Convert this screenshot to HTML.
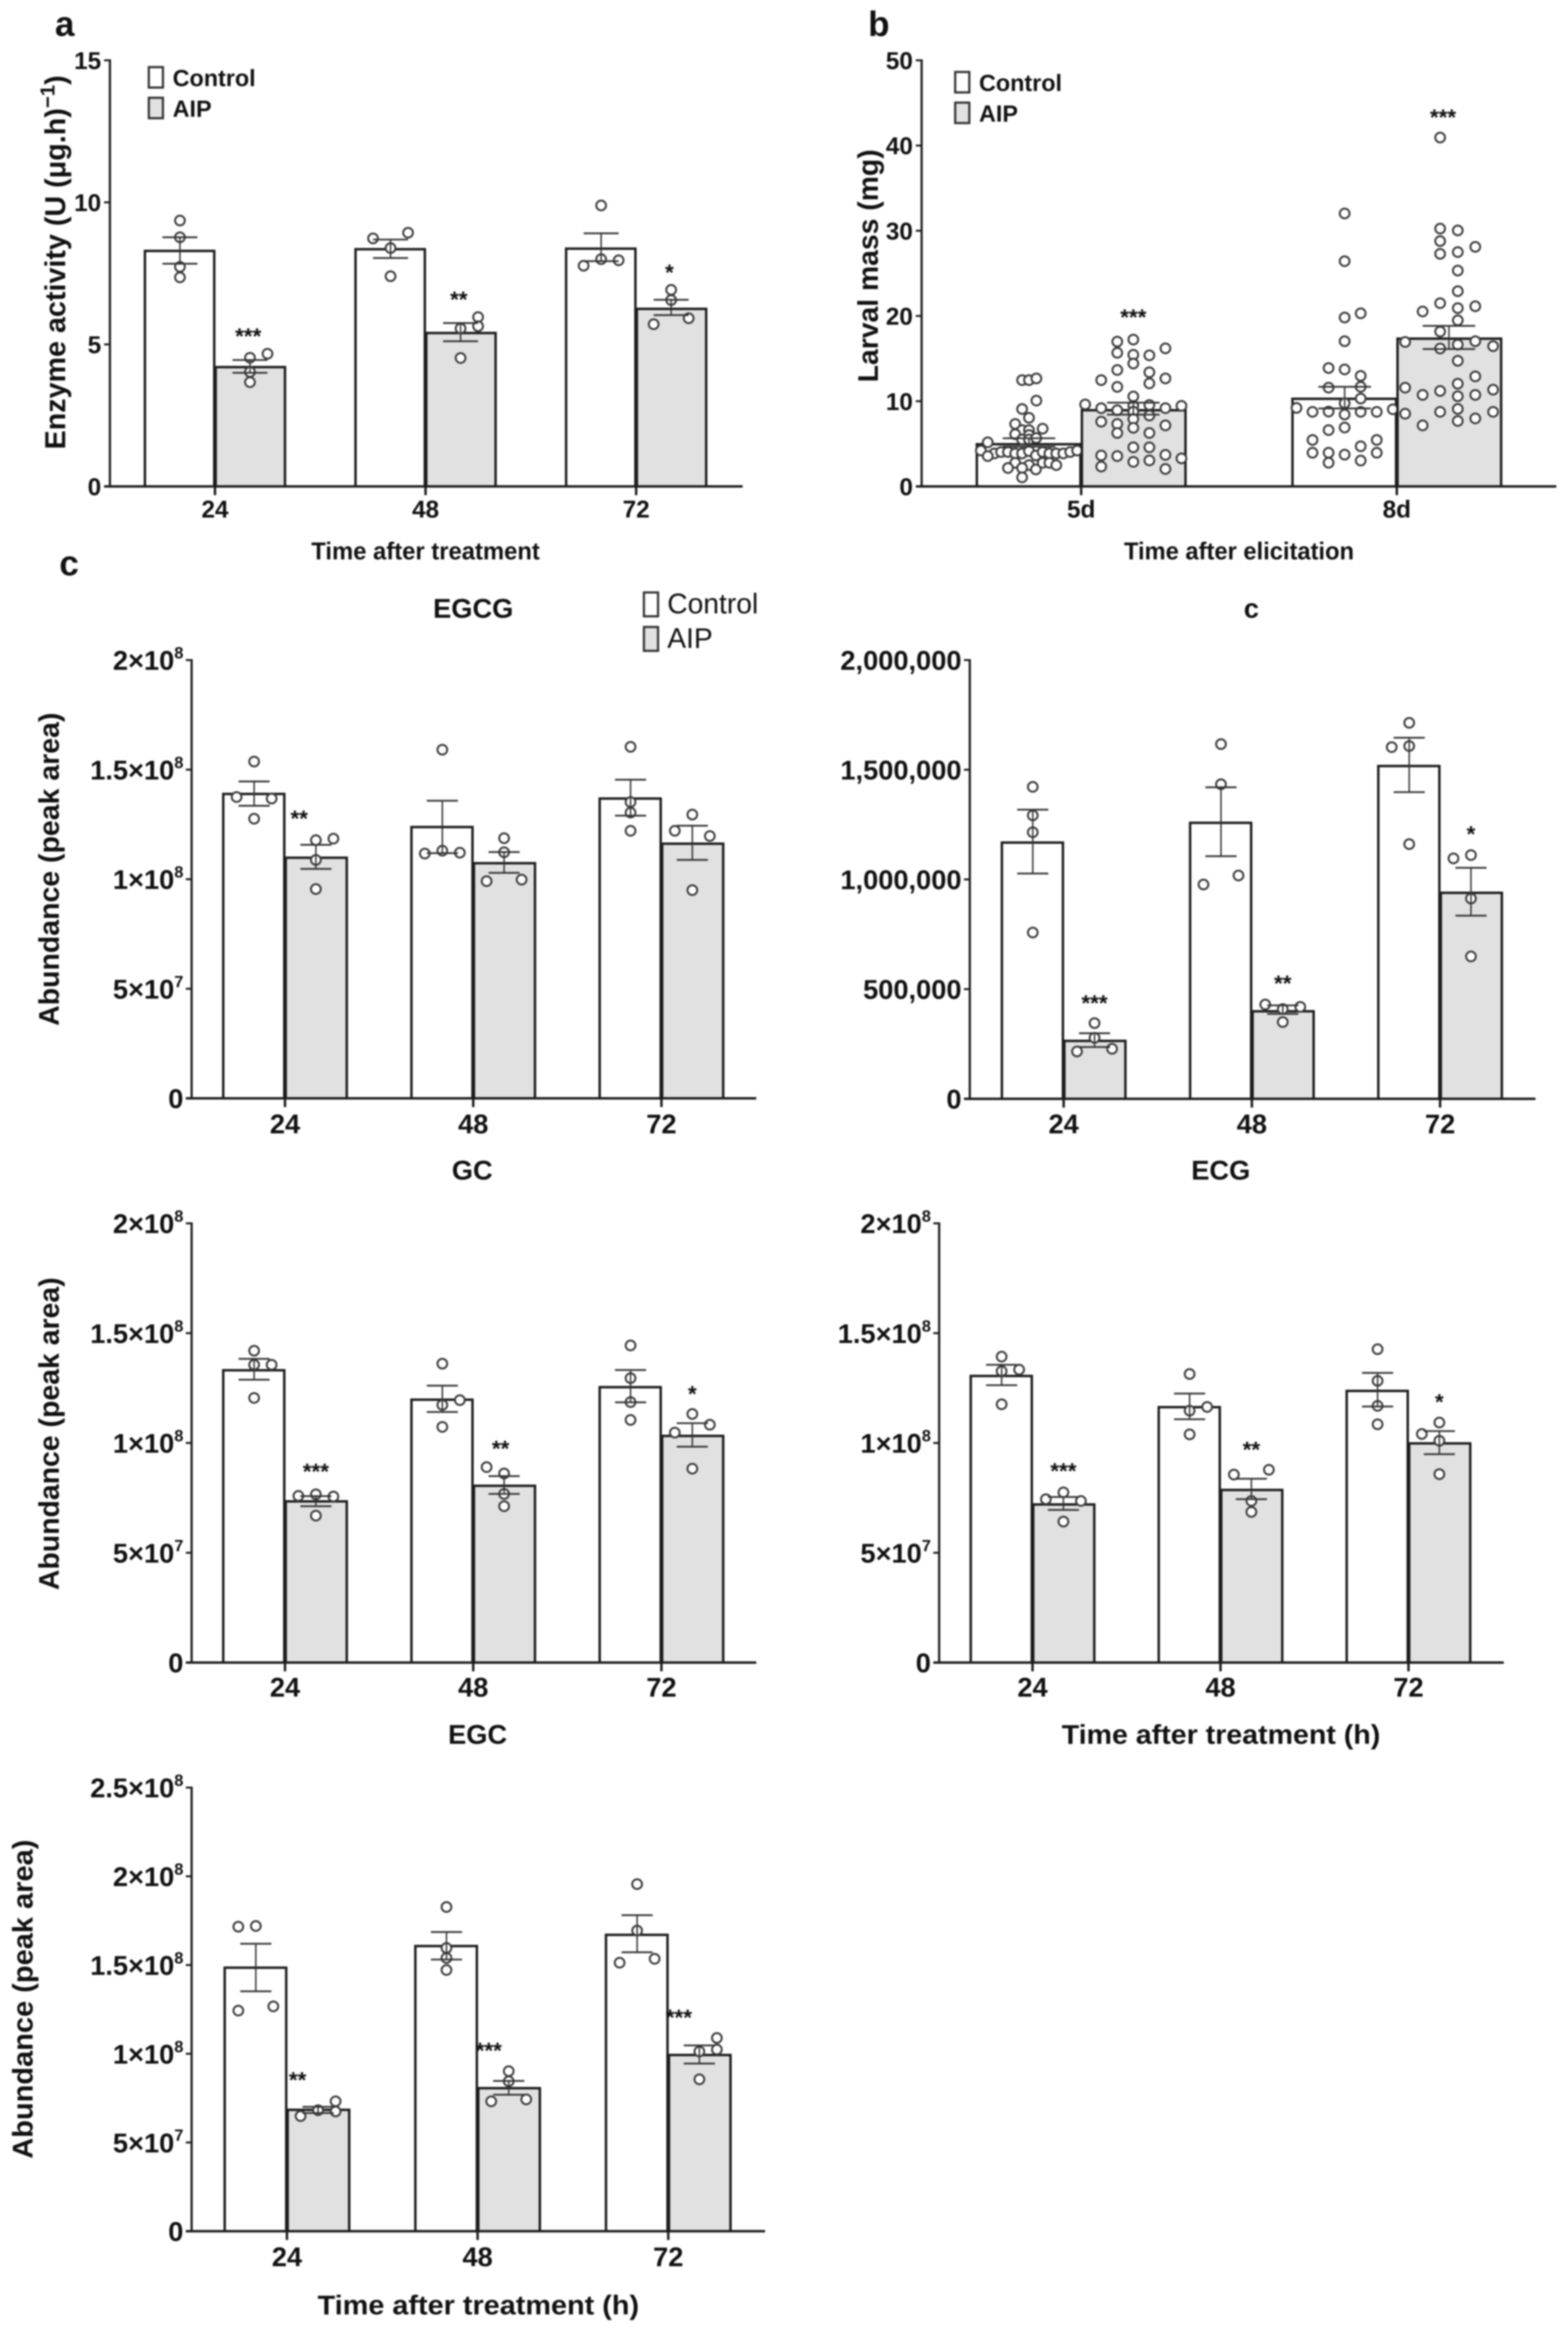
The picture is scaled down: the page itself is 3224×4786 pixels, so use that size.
<!DOCTYPE html>
<html lang="en">
<head>
<meta charset="utf-8">
<title>Enzyme activity, larval mass and metabolite abundance</title>
<style>
html,body{margin:0;padding:0;background:#fff;}
svg{display:block;filter:blur(1.6px);}
text{font-family:"Liberation Sans",sans-serif;fill:#111;}
</style>
</head>
<body>
<svg id="figure" xmlns="http://www.w3.org/2000/svg" width="3224" height="4786" viewBox="0 0 3224 4786"></svg>
<script>
/* ---------- Panel a: enzyme activity ---------- */
const aCategories = ['24','48','72'];
const aYTicks = [0,5,10,15];
const aYTickLabels = ['0','5','10','15'];
const aControlMeans = [8.29,8.35,8.37];
const aControlErrLow = [7.84,8.04,7.93];
const aControlErrHigh = [8.77,8.69,8.91];
const aAipMeans = [4.2,5.4,6.25];
const aAipErrLow = [4.0,5.11,6.03];
const aAipErrHigh = [4.45,5.75,6.57];
const aControlPoints = [[9.36,8.77,7.73,7.36],[8.73,8.93,8.39,7.4],[9.89,8.0,7.96,7.77]];
const aControlSwarm = [[0,0,0,0],[-1,1,0,0],[0,0,1,-1]];
const aAipPoints = [[4.67,4.53,4.03,3.67],[5.96,5.64,5.56,4.52],[6.92,6.56,5.92,5.71]];
const aAipSwarm = [[1,0,0,0],[1,1,0,0],[0,0,1,-1]];
const aStars = ['***','**','*'];
const aStarLevels = [5.47,6.76,7.71];
const aStarShift = [-0.1,-0.1,-0.1];

/* ---------- Panel b: larval mass ---------- */
const bCategories = ['5d','8d'];
const bYTicks = [0,10,20,30,40,50];
const bYTickLabels = ['0','10','20','30','40','50'];
const bControlMeans = [4.95,10.28];
const bControlErrLow = [4.66,9.15];
const bControlErrHigh = [5.65,11.69];
const bAipMeans = [8.94,17.34];
const bAipErrLow = [8.42,16.12];
const bAipErrHigh = [9.83,18.84];
const bControlPoints = [
 [12.47,12.47,12.67,10.07,9.08,8.05,7.33,6.78,6.61,6.61,6.13,6.03,5.51,5.51,5.68,5.17,4.21,3.87,4.04,4.04,3.87,3.87,4.14,3.63,4.04,3.87,3.87,3.87,4.04,4.21,3.56,2.77,2.5,2.16,1.99,2.16,2.77,2.77,2.5,1.06],
 [32.03,26.43,19.82,20.31,17.04,13.89,13.73,12.97,11.59,11.69,10.31,9.76,9.21,8.75,8.78,8.44,8.75,8.75,9.05,6.61,6.91,5.45,5.45,3.95,3.95,2.78,3.73,4.71,3.03,3.95]
];
const bControlSwarm = [
 [-.43,0,.46,.46,-.43,0,-.86,.85,-.43,0,-.86,0,-.43,0,.45,-2.57,-3,-2.16,-1.74,-1.31,-.86,-.43,0,.43,.85,1.27,1.7,2.14,2.57,3,-2.57,-.86,0,-.43,.43,-1.31,.85,1.27,1.7,-.43],
 [0,0,0,1,0,-1,0,1,-1,1,1,0,-3,-2,-1,0,1,2,3,-1,0,-2,2,-2,-1,-1,0,1,1,2]
];
const bAipPoints = [
 [16.99,17.23,15.68,15.45,15.38,16.2,14.42,13.66,13.39,12.09,12.67,12.47,11.68,10.55,9.62,9.18,8.94,9.45,9.55,9.18,9.45,8.77,8.32,7.33,7.6,7.91,6.88,6.27,6.27,7.16,4.59,4.59,3.63,3.56,2.88,3.05,3.7,3.29,2.33,2.05],
 [40.94,30.25,30.04,28.79,28.11,27.29,27.5,25.33,22.91,21.5,21.14,20.92,20.53,19.49,18.17,16.95,17.04,16.64,16.18,16.46,14.74,12.91,12.05,11.59,11.35,11.2,10.74,10.58,10.74,8.75,9.09,8.53,8.75,7.98,7.68,7.16]
];
const bAipSwarm = [
 [-1,0,-1,0,1,2,0,-1,1,1,2,-2,-1,0,-3,-2,-1,0,1,2,3,0,1,-1,-2,0,0,-1,1,2,0,1,-2,-1,0,1,2,3,-2,2],
 [-.55,-.55,.55,-.55,1.64,-.55,.55,.55,.55,-.55,1.64,.55,-1.64,.55,-.55,-2.73,1.64,.55,-.55,2.75,.55,1.64,.55,-2.73,2.75,-.55,-1.64,.55,1.64,-.55,.55,-2.73,2.75,1.64,.55,-1.64]
];
const bStars = ['***','***'];
const bStarLevels = [20.44,43.9];
const bStarShift = [0,-0.37];

/* ---------- Shared panel-c categories and axes (peak area, units of 1e8) ---------- */
const cCategories = ['24','48','72'];
const cYTicks = [0,0.5,1,1.5,2];
const cYTickLabels = ['0','5×10^7','1×10^8','1.5×10^8','2×10^8'];

/* ---------- EGCG ---------- */
const egcgControlMeans = [1.389,1.238,1.368];
const egcgControlErrLow = [1.335,1.119,1.29];
const egcgControlErrHigh = [1.446,1.358,1.454];
const egcgAipMeans = [1.098,1.073,1.162];
const egcgAipErrLow = [1.047,1.029,1.088];
const egcgAipErrHigh = [1.157,1.124,1.244];
const egcgControlPoints = [[1.537,1.375,1.368,1.276],[1.591,1.117,1.13,1.121],[1.604,1.352,1.304,1.221]];
const egcgControlSwarm = [[0,-1,1,0],[0,-1,0,1],[0,0,0,0]];
const egcgAipPoints = [[1.178,1.185,1.088,0.955],[1.187,1.123,0.991,0.998],[1.295,1.221,1.197,0.95]];
const egcgAipSwarm = [[0,1,0,0],[0,0,-1,1],[0,-1,1,0]];
const egcgStars = ['**','',''];
const egcgStarLevels = [1.3,1.3,1.3];
const egcgStarShift = [-0.95,0,0];

/* ---------- c (catechin, millions) ---------- */
const catYTicks = [0,0.5,1,1.5,2];
const catYTickLabels = ['0','500,000','1,000,000','1,500,000','2,000,000'];
const catControlMeans = [1.168,1.258,1.517];
const catControlErrLow = [1.027,1.106,1.398];
const catControlErrHigh = [1.318,1.42,1.646];
const catAipMeans = [0.264,0.399,0.939];
const catAipErrLow = [0.236,0.387,0.835];
const catAipErrHigh = [0.299,0.426,1.053];
const catControlPoints = [[1.422,1.292,1.215,0.758],[1.617,1.434,1.018,0.977],[1.714,1.603,1.608,1.161]];
const catControlSwarm = [[0,0,0,0],[0,0,1,-1],[0,-1,0,0]];
const catAipPoints = [[0.345,0.278,0.216,0.228],[0.43,0.419,0.409,0.35],[1.111,1.096,0.913,0.649]];
const catAipSwarm = [[0,0,-1,1],[-1,1,0,0],[0,-1,0,0]];
const catStars = ['***','**','*'];
const catStarLevels = [0.459,0.549,1.23];
const catStarShift = [0,0,0];

/* ---------- GC ---------- */
const gcControlMeans = [1.331,1.197,1.254];
const gcControlErrLow = [1.288,1.141,1.185];
const gcControlErrHigh = [1.383,1.261,1.332];
const gcAipMeans = [0.734,0.805,1.032];
const gcAipErrLow = [0.712,0.768,0.983];
const gcAipErrHigh = [0.758,0.849,1.09];
const gcControlPoints = [[1.42,1.356,1.356,1.205],[1.361,1.195,1.173,1.073],[1.444,1.295,1.186,1.105]];
const gcControlSwarm = [[0,0,1,0],[0,1,0,0],[0,0,0,0]];
const gcAipPoints = [[0.759,0.766,0.756,0.669],[0.89,0.861,0.768,0.712],[1.132,1.083,1.047,0.883]];
const gcAipSwarm = [[-1,0,1,0],[-1,0,0,0],[0,1,-1,0]];
const gcStars = ['***','**','*'];
const gcStarLevels = [0.893,0.997,1.246];
const gcStarShift = [0,-0.2,0];

/* ---------- ECG ---------- */
const ecgControlMeans = [1.305,1.163,1.237];
const ecgControlErrLow = [1.263,1.108,1.166];
const ecgControlErrHigh = [1.356,1.225,1.319];
const ecgAipMeans = [0.72,0.786,0.998];
const ecgAipErrLow = [0.695,0.744,0.949];
const ecgAipErrHigh = [0.754,0.837,1.054];
const ecgControlPoints = [[1.393,1.327,1.334,1.176],[1.314,1.164,1.147,1.039],[1.427,1.283,1.169,1.085]];
const ecgControlSwarm = [[0,0,1,0],[0,1,0,0],[0,0,0,0]];
const ecgAipPoints = [[0.744,0.775,0.736,0.642],[0.856,0.878,0.736,0.686],[1.093,1.041,1.01,0.858]];
const ecgAipSwarm = [[-1,0,1,0],[-1,1,0,0],[0,-1,0,0]];
const ecgStars = ['***','**','*'];
const ecgStarLevels = [0.895,0.993,1.21];
const ecgStarShift = [0,0,0];

/* ---------- EGC ---------- */
const egcYTicks = [0,0.5,1,1.5,2,2.5];
const egcYTickLabels = ['0','5×10^7','1×10^8','1.5×10^8','2×10^8','2.5×10^8'];
const egcControlMeans = [1.485,1.607,1.67];
const egcControlErrLow = [1.352,1.531,1.572];
const egcControlErrHigh = [1.62,1.686,1.781];
const egcAipMeans = [0.684,0.806,0.993];
const egcAipErrLow = [0.666,0.769,0.945];
const egcAipErrHigh = [0.701,0.847,1.047];
const egcControlPoints = [[1.716,1.72,1.243,1.267],[1.827,1.596,1.54,1.472],[1.956,1.694,1.513,1.535]];
const egcControlSwarm = [[-1,0,-1,1],[0,0,0,0],[0,0,-1,1]];
const egcAipPoints = [[0.649,0.682,0.675,0.732],[0.902,0.845,0.732,0.743],[1.089,1.024,1.013,0.856]];
const egcAipSwarm = [[-1,0,1,1],[0,0,-1,1],[1,1,0,0]];
const egcStars = ['**','***','***'];
const egcStarLevels = [0.88,1.047,1.233];
const egcStarShift = [-1.17,-1.14,-1.17];

/* ---------- Drawing ---------- */
const NS = 'http://www.w3.org/2000/svg';
const root = document.getElementById('figure');
const INK = '#1c1c1c';
const AIP_FILL = '#e1e1e1';

function mk(parent, tag, attrs, name) {
  const el = document.createElementNS(NS, tag);
  for (const k in attrs) el.setAttribute(k, attrs[k]);
  
  
  parent.appendChild(el);
  return el;
}
function line(parent, x1, y1, x2, y2, sw, name, color) {
  return mk(parent, 'line', {x1, y1, x2, y2, stroke: color || INK, 'stroke-width': sw}, name);
}
function label(parent, str, x, y, size, anchor, name, weight) {
  const t = mk(parent, 'text', {x, y, 'font-size': size, 'text-anchor': anchor || 'middle', 'font-weight': weight || 'bold'}, name);
  t.textContent = str;
  return t;
}
function tickLabel(parent, str, x, y, size, name) {
  const parts = str.split('^');
  const t = mk(parent, 'text', {x, y, 'font-size': size, 'text-anchor': 'end', 'font-weight': 'bold'}, name);
  t.appendChild(document.createTextNode(parts[0]));
  if (parts[1]) {
    const s = document.createElementNS(NS, 'tspan');
    s.setAttribute('font-size', size * 0.6);
    s.setAttribute('dy', -size * 0.42);
    s.textContent = parts[1];
    t.appendChild(s);
  }
}
function yTitle(parent, str, x, y, size, length, name) {
  mk(parent, 'text', {
    transform: 'translate(' + x + ',' + y + ') rotate(-90)', 'font-size': size, 'font-weight': 'bold',
    textLength: length, lengthAdjust: 'spacingAndGlyphs'
  }, name).textContent = str;
}

function drawGroup(g, p, i, series) {
  const isCtl = series === 'control';
  const c = p.firstCenter + i * p.groupStep;
  const cx = isCtl ? c - p.barWidth / 2 : c + p.barWidth / 2;
  const y = v => p.bottom - (v / p.yMax) * (p.bottom - p.top);
  const cat = p.categories[i];
  const means = isCtl ? p.controlMeans : p.aipMeans;
  const lows = isCtl ? p.controlLow : p.aipLow;
  const highs = isCtl ? p.controlHigh : p.aipHigh;
  const pts = isCtl ? p.controlPoints : p.aipPoints;
  const swarm = isCtl ? p.controlSwarm : p.aipSwarm;
  const x0 = isCtl ? c - p.barWidth : c + 1.5;
  const x1 = isCtl ? c - 1.5 : c + p.barWidth;
  mk(g, 'rect', {x: x0, y: y(means[i]), width: x1 - x0, height: p.bottom - y(means[i]),
    fill: isCtl ? '#fff' : AIP_FILL, stroke: INK, 'stroke-width': 5}, 'bar-' + p.id + '-' + cat + '-' + series);
  pts[i].forEach(function (v, k) {
    mk(g, 'circle', {cx: cx + swarm[i][k] * p.colPx, cy: y(v), r: 10, fill: '#fff', stroke: '#3a3a3a', 'stroke-width': 4},
      'point-' + p.id + '-' + cat + '-' + series);
  });
  const ex = cx;
  line(g, ex, y(lows[i]), ex, y(highs[i]), 3, 'error-stem-' + p.id + '-' + cat + '-' + series, '#333');
  line(g, ex - p.capWidth / 2, y(highs[i]), ex + p.capWidth / 2, y(highs[i]), 3.6, 'error-cap-high-' + p.id + '-' + cat + '-' + series, '#333');
  line(g, ex - p.capWidth / 2, y(lows[i]), ex + p.capWidth / 2, y(lows[i]), 3.6, 'error-cap-low-' + p.id + '-' + cat + '-' + series, '#333');
}

function drawPanel(p) {
  const g = mk(root, 'g', {}, 'panel-' + p.id);
  const y = v => p.bottom - (v / p.yMax) * (p.bottom - p.top);
  p.categories.forEach(function (cat, i) {
    drawGroup(g, p, i, 'control');
    drawGroup(g, p, i, 'aip');
    const c = p.firstCenter + i * p.groupStep;
    if (p.stars[i]) {
      label(g, p.stars[i], c + p.barWidth / 2 + p.starShift[i] * p.colPx, y(p.starLevels[i]) + 0.57 * 46, 46, 'middle', 'significance-' + p.id + '-' + cat);
    }
    line(g, c, p.bottom, c, p.bottom + 18, 5, 'x-tick-' + p.id + '-' + cat);
    label(g, cat, c, p.catBaseline, p.fontSize, 'middle', 'x-label-' + p.id + '-' + cat);
  });
  line(g, p.axisX, p.top - 2, p.axisX, p.bottom + 2, 4.5, 'y-axis-' + p.id);
  line(g, p.axisX - 12, p.bottom, p.xEnd, p.bottom, 5, 'x-axis-' + p.id);
  p.yTicks.forEach(function (v, i) {
    line(g, p.axisX - 12, y(v), p.axisX, y(v), 4, 'y-tick-' + p.id + '-' + p.yTickLabels[i]);
    tickLabel(g, p.yTickLabels[i], p.axisX - p.labelGap, y(v) + p.fontSize * 0.36, p.fontSize, 'y-label-' + p.id + '-' + p.yTickLabels[i]);
  });
}

function legend(x, yc, ya, text1X, name, size, weight) {
  const g = mk(root, 'g', {}, name);
  const h = yc[1] - yc[0];
  mk(g, 'rect', {x: x, y: yc[0], width: 29, height: h, fill: '#fff', stroke: '#333', 'stroke-width': 4.5}, 'legend-swatch-control');
  mk(g, 'rect', {x: x, y: ya[0], width: 29, height: h, fill: AIP_FILL, stroke: '#333', 'stroke-width': 4.5}, 'legend-swatch-aip');
  label(g, 'Control', text1X, yc[1] - 3 + (size > 50 ? -3 : 0), size, 'start', 'legend-label-control', weight);
  label(g, 'AIP', text1X, ya[1] - 3 + (size > 50 ? -3 : 0), size, 'start', 'legend-label-aip', weight);
}

drawPanel({id:'enzyme-activity',categories:aCategories,yTicks:aYTicks,yTickLabels:aYTickLabels,yMax:15,axisX:226,top:124,bottom:1000,xEnd:1527,firstCenter:442,groupStep:433,barWidth:144,colPx:36,capWidth:72,fontSize:50,labelGap:18,catBaseline:1064,
  controlMeans:aControlMeans,controlLow:aControlErrLow,controlHigh:aControlErrHigh,aipMeans:aAipMeans,aipLow:aAipErrLow,aipHigh:aAipErrHigh,controlPoints:aControlPoints,controlSwarm:aControlSwarm,aipPoints:aAipPoints,aipSwarm:aAipSwarm,stars:aStars,starLevels:aStarLevels,starShift:aStarShift});
drawPanel({id:'larval-mass',categories:bCategories,yTicks:bYTicks,yTickLabels:bYTickLabels,yMax:50,axisX:1895,top:124,bottom:1000,xEnd:3200,firstCenter:2223,groupStep:649,barWidth:214.5,colPx:33,capWidth:108,fontSize:50,labelGap:18,catBaseline:1064,
  controlMeans:bControlMeans,controlLow:bControlErrLow,controlHigh:bControlErrHigh,aipMeans:bAipMeans,aipLow:bAipErrLow,aipHigh:bAipErrHigh,controlPoints:bControlPoints,controlSwarm:bControlSwarm,aipPoints:bAipPoints,aipSwarm:bAipSwarm,stars:bStars,starLevels:bStarLevels,starShift:bStarShift});
drawPanel({id:'egcg',categories:cCategories,yTicks:cYTicks,yTickLabels:cYTickLabels,yMax:2,axisX:394,top:1357,bottom:2258,xEnd:1555,firstCenter:586,groupStep:387,barWidth:127,colPx:36,capWidth:64,fontSize:56,labelGap:17,catBaseline:2330,
  controlMeans:egcgControlMeans,controlLow:egcgControlErrLow,controlHigh:egcgControlErrHigh,aipMeans:egcgAipMeans,aipLow:egcgAipErrLow,aipHigh:egcgAipErrHigh,controlPoints:egcgControlPoints,controlSwarm:egcgControlSwarm,aipPoints:egcgAipPoints,aipSwarm:egcgAipSwarm,stars:egcgStars,starLevels:egcgStarLevels,starShift:egcgStarShift});
drawPanel({id:'catechin',categories:cCategories,yTicks:catYTicks,yTickLabels:catYTickLabels,yMax:2,axisX:1994,top:1357,bottom:2259,xEnd:3157,firstCenter:2187,groupStep:387,barWidth:127,colPx:36,capWidth:64,fontSize:56,labelGap:17,catBaseline:2330,
  controlMeans:catControlMeans,controlLow:catControlErrLow,controlHigh:catControlErrHigh,aipMeans:catAipMeans,aipLow:catAipErrLow,aipHigh:catAipErrHigh,controlPoints:catControlPoints,controlSwarm:catControlSwarm,aipPoints:catAipPoints,aipSwarm:catAipSwarm,stars:catStars,starLevels:catStarLevels,starShift:catStarShift});
drawPanel({id:'gc',categories:cCategories,yTicks:cYTicks,yTickLabels:cYTickLabels,yMax:2,axisX:394,top:2515,bottom:3418,xEnd:1555,firstCenter:586,groupStep:387,barWidth:127,colPx:36,capWidth:64,fontSize:56,labelGap:17,catBaseline:3488,
  controlMeans:gcControlMeans,controlLow:gcControlErrLow,controlHigh:gcControlErrHigh,aipMeans:gcAipMeans,aipLow:gcAipErrLow,aipHigh:gcAipErrHigh,controlPoints:gcControlPoints,controlSwarm:gcControlSwarm,aipPoints:gcAipPoints,aipSwarm:gcAipSwarm,stars:gcStars,starLevels:gcStarLevels,starShift:gcStarShift});
drawPanel({id:'ecg',categories:cCategories,yTicks:cYTicks,yTickLabels:cYTickLabels,yMax:2,axisX:1931,top:2515,bottom:3418,xEnd:3092,firstCenter:2123,groupStep:386.5,barWidth:127,colPx:36,capWidth:64,fontSize:56,labelGap:17,catBaseline:3488,
  controlMeans:ecgControlMeans,controlLow:ecgControlErrLow,controlHigh:ecgControlErrHigh,aipMeans:ecgAipMeans,aipLow:ecgAipErrLow,aipHigh:ecgAipErrHigh,controlPoints:ecgControlPoints,controlSwarm:ecgControlSwarm,aipPoints:ecgAipPoints,aipSwarm:ecgAipSwarm,stars:ecgStars,starLevels:ecgStarLevels,starShift:ecgStarShift});
drawPanel({id:'egc',categories:cCategories,yTicks:egcYTicks,yTickLabels:egcYTickLabels,yMax:2.5,axisX:394,top:3675,bottom:4587,xEnd:1573,firstCenter:590,groupStep:392,barWidth:128,colPx:36,capWidth:64,fontSize:56,labelGap:17,catBaseline:4659,
  controlMeans:egcControlMeans,controlLow:egcControlErrLow,controlHigh:egcControlErrHigh,aipMeans:egcAipMeans,aipLow:egcAipErrLow,aipHigh:egcAipErrHigh,controlPoints:egcControlPoints,controlSwarm:egcControlSwarm,aipPoints:egcAipPoints,aipSwarm:egcAipSwarm,stars:egcStars,starLevels:egcStarLevels,starShift:egcStarShift});

/* Panel letters */
label(root, 'a', 113, 74, 72, 'start', 'panel-letter-a');
label(root, 'b', 1785, 74, 72, 'start', 'panel-letter-b');
label(root, 'c', 122, 1183, 72, 'start', 'panel-letter-c');

/* Panel titles */
label(root, 'EGCG', 973, 1270, 56, 'middle', 'title-egcg');
label(root, 'c', 2573, 1270, 56, 'middle', 'title-catechin');
label(root, 'GC', 971, 2425, 56, 'middle', 'title-gc');
label(root, 'ECG', 2510, 2425, 56, 'middle', 'title-ecg');
label(root, 'EGC', 982, 3585, 56, 'middle', 'title-egc');

/* Axis titles */
const enzymeTitle = mk(root, 'text', {transform: 'translate(134,924) rotate(-90)', 'font-size': 59, 'font-weight': 'bold'}, 'y-axis-title-enzyme-activity');
enzymeTitle.appendChild(document.createTextNode('Enzyme activity (U (μg.h)'));
const enzymeSup = document.createElementNS(NS, 'tspan');
enzymeSup.setAttribute('font-size', 42);
enzymeSup.setAttribute('dy', -22);
enzymeSup.textContent = '−1';
enzymeTitle.appendChild(enzymeSup);
const enzymeClose = document.createElementNS(NS, 'tspan');
enzymeClose.setAttribute('dy', 22);
enzymeClose.textContent = ')';
enzymeTitle.appendChild(enzymeClose);

yTitle(root, 'Larval mass (mg)', 1805, 786, 58, 479, 'y-axis-title-larval-mass');
yTitle(root, 'Abundance (peak area)', 121, 2109, 58, 644, 'y-axis-title-egcg');
yTitle(root, 'Abundance (peak area)', 121, 3269, 58, 643, 'y-axis-title-gc');
yTitle(root, 'Abundance (peak area)', 67, 4438, 58, 656, 'y-axis-title-egc');

mk(root, 'text', {x: 640, y: 1150, 'font-size': 50, 'font-weight': 'bold', textLength: 470, lengthAdjust: 'spacingAndGlyphs'}, 'x-axis-title-enzyme-activity').textContent = 'Time after treatment';
mk(root, 'text', {x: 2311, y: 1150, 'font-size': 50, 'font-weight': 'bold', textLength: 473, lengthAdjust: 'spacingAndGlyphs'}, 'x-axis-title-larval-mass').textContent = 'Time after elicitation';
mk(root, 'text', {x: 2183, y: 3585, 'font-size': 56, 'font-weight': 'bold', textLength: 655, lengthAdjust: 'spacingAndGlyphs'}, 'x-axis-title-ecg').textContent = 'Time after treatment (h)';
mk(root, 'text', {x: 653, y: 4758, 'font-size': 56, 'font-weight': 'bold', textLength: 661, lengthAdjust: 'spacingAndGlyphs'}, 'x-axis-title-egc').textContent = 'Time after treatment (h)';

/* Legends */
legend(306, [138, 180], [201, 243], 355, 'legend-enzyme-activity', 48, 'bold');
legend(1964, [148, 190], [211, 253], 2013, 'legend-larval-mass', 48, 'bold');
legend(1324, [1218, 1267], [1289, 1338], 1372, 'legend-abundance', 58, 'normal');
</script>
</body>
</html>
